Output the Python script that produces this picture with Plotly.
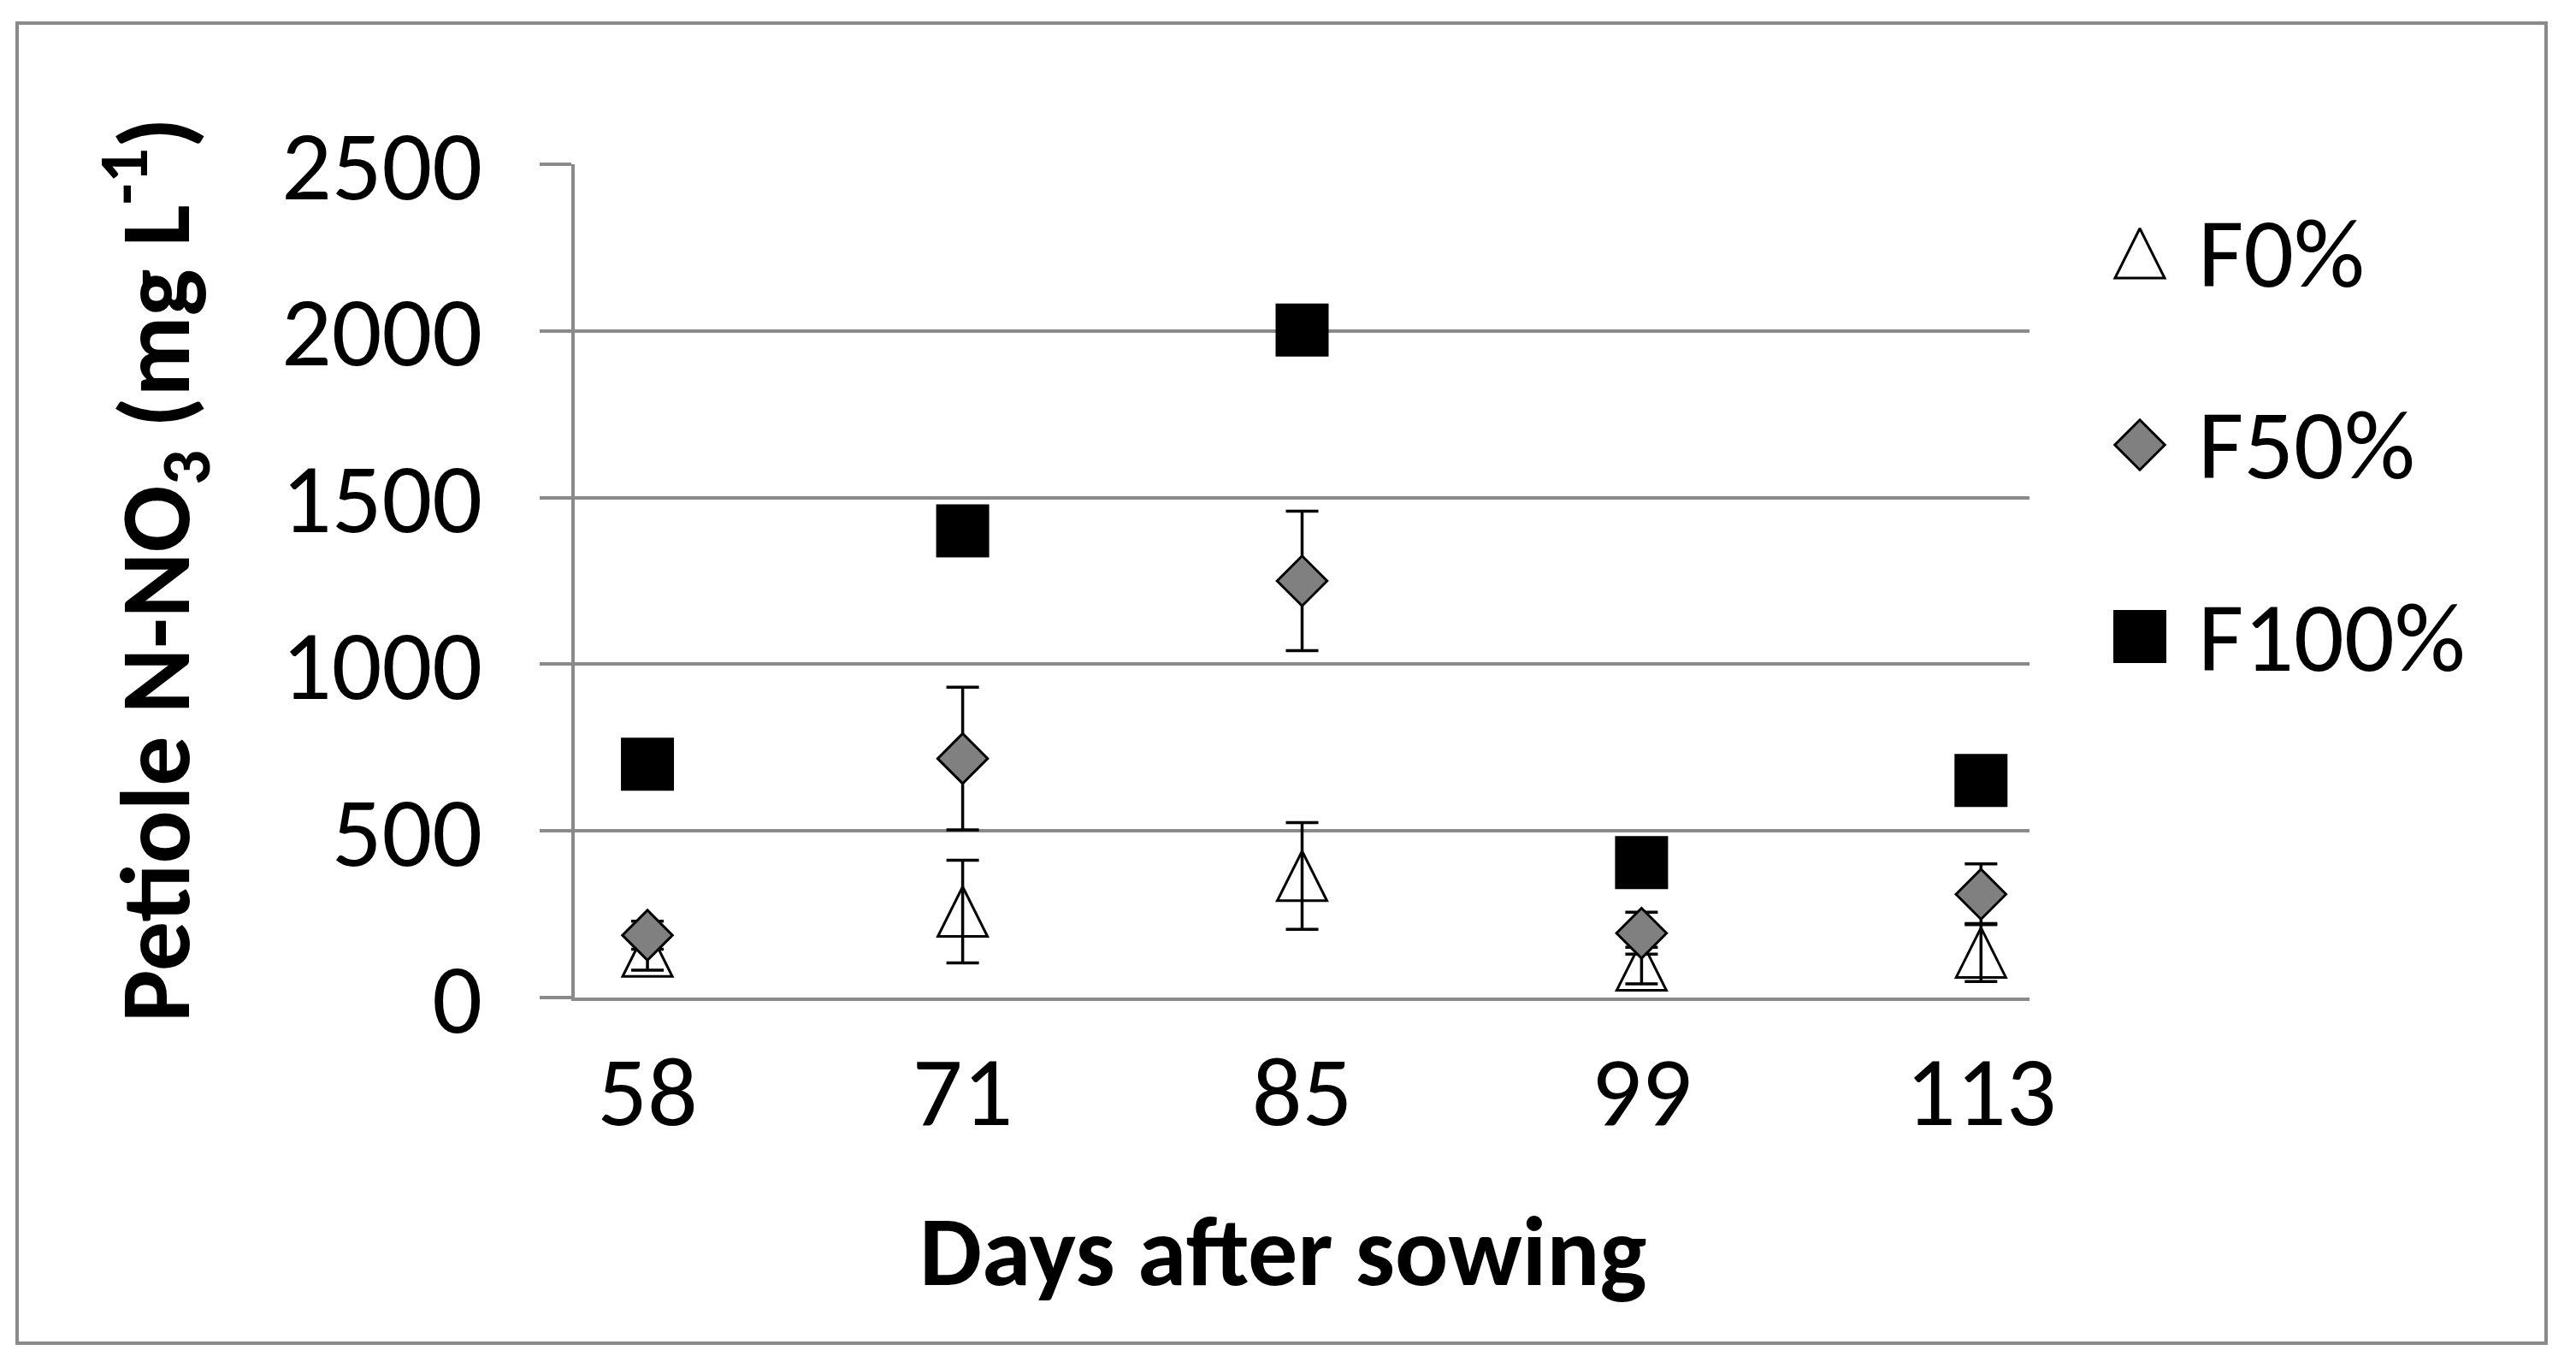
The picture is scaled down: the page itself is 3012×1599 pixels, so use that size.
import plotly.graph_objects as go

# ---------------- data ----------------
days = [58, 71, 85, 99, 113]
day_labels = ["58", "71", "85", "99", "113"]
series_names = ["F0%", "F50%", "F100%"]
f0 = [138, 258, 365, 96, 135]
f0_err = [56, 154, 160, 55, 87]
f50 = [187, 717, 1250, 193, 310]
f50_err = [42, 214, 209, 63, 91]
f100 = [700, 1400, 2003, 405, 651]
y_ticks = [0, 500, 1000, 1500, 2000, 2500]
y_tick_labels = [str(v) for v in y_ticks]
x_title = "Days after sowing"
y_title = "Petiole N-NO<sub>3</sub> (mg L<sup>-1</sup>)"

# ---------------- styling ----------------
W, H = 3012, 1599
OX, OY = 8, 8  # page body offset
FONT = "Carlito, Lato, sans-serif"
GRID = "#8a8a8a"
FS = 116


def px(x):
    return (x - OX) / W


def py(y):
    return 1 - (y - OY) / H


tri_marker = dict(symbol="arrow-down", angle=180, standoff=29, size=58,
                  color="rgba(255,255,255,0)", line=dict(color="black", width=3))
dia_marker = dict(symbol="diamond", size=45, color="#808080",
                  line=dict(color="black", width=3))
sq_marker = dict(symbol="square", size=60, color="black",
                 line=dict(color="black", width=2))
markers = [tri_marker, dia_marker, sq_marker]

err_style = dict(type="data", color="black", thickness=3.5, width=19, visible=True)

fig = go.Figure()
fig.add_trace(go.Scatter(x=days, y=f0, mode="markers", name=series_names[0],
                         marker=tri_marker, showlegend=False, cliponaxis=False,
                         error_y=dict(array=f0_err, **err_style)))
fig.add_trace(go.Scatter(x=days, y=f50, mode="markers", name=series_names[1],
                         marker=dia_marker, showlegend=False, cliponaxis=False,
                         error_y=dict(array=f50_err, **err_style)))
fig.add_trace(go.Scatter(x=days, y=f100, mode="markers", name=series_names[2],
                         marker=sq_marker, showlegend=False, cliponaxis=False))

# custom legend (markers at true size)
for name, mk in zip(series_names, markers):
    fig.add_trace(go.Scatter(x=[0], y=[name], mode="markers", marker=mk,
                             xaxis="x2", yaxis="y2", showlegend=False,
                             cliponaxis=False, hoverinfo="skip"))

annotations = []
for name in series_names:
    annotations.append(dict(x=0, y=name, xref="x2", yref="y2", text=name,
                            showarrow=False, xanchor="left", yanchor="middle",
                            xshift=66, font=dict(family=FONT, size=FS, color="black")))

annotations.append(dict(x=px(1500), y=py(1462), xref="paper", yref="paper",
                        text="<b>" + x_title + "</b>", showarrow=False,
                        xanchor="center", yanchor="middle",
                        font=dict(family=FONT, size=FS, color="black")))
annotations.append(dict(x=px(181), y=py(666), xref="paper", yref="paper",
                        text="<b>" + y_title + "</b>", showarrow=False, textangle=-90,
                        xanchor="center", yanchor="middle",
                        font=dict(family=FONT, size=FS, color="black")))

fig.update_layout(
    width=W, height=H,
    template="none",
    paper_bgcolor="white", plot_bgcolor="white",
    margin=dict(l=0, r=0, t=0, b=0, pad=0),
    showlegend=False,
    font=dict(family=FONT, size=FS, color="black"),
    xaxis=dict(domain=[px(672), px(2373)], range=[55, 115], anchor="y",
               tickmode="array", tickvals=days, ticktext=day_labels,
               showgrid=False, zeroline=False, showline=True,
               linecolor=GRID, linewidth=3.5, ticks="",
               tickfont=dict(family=FONT, size=FS, color="black"),
               ticklabelstandoff=6, automargin=False),
    yaxis=dict(domain=[py(1166), py(192)], range=[0, 2500], anchor="x",
               tickmode="array", tickvals=y_ticks, ticktext=y_tick_labels,
               showgrid=True, gridcolor=GRID, gridwidth=3.5, zeroline=False,
               showline=True, linecolor=GRID, linewidth=3.5,
               ticks="outside", ticklen=37, tickwidth=3.5, tickcolor=GRID,
               tickfont=dict(family=FONT, size=FS, color="black"),
               ticklabelstandoff=44, automargin=False),
    xaxis2=dict(domain=[px(2482), px(2522)], range=[-1, 1], anchor="y2",
                visible=False, fixedrange=True),
    yaxis2=dict(domain=[py(856), py(184)], type="category",
                categoryorder="array", categoryarray=series_names,
                range=[2.5, -0.5], anchor="x2", visible=False, fixedrange=True),
    annotations=annotations,
    shapes=[dict(type="rect", xref="paper", yref="paper",
                 x0=px(20), x1=px(2977), y0=py(1570), y1=py(27),
                 line=dict(color=GRID, width=4), fillcolor="rgba(0,0,0,0)",
                 layer="below")],
)

fig.write_html("out.html")
